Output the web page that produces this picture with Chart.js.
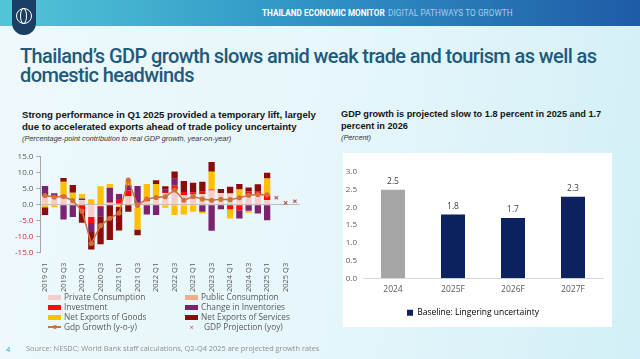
<!DOCTYPE html>
<html>
<head>
<meta charset="utf-8">
<script src="https://cdn.jsdelivr.net/npm/chart.js@4.4.0/dist/chart.umd.min.js"></script>
<style>
    html, body { margin: 0; padding: 0; }
    body {
        width: 640px; height: 359px; overflow: hidden; position: relative;
        font-family: "Open Sans", sans-serif;
        background: linear-gradient(100deg, #eef9fc 0%, #e5f6fa 55%, #d2eff7 100%);
    }
    #header {
        position: absolute; left: 0; top: 0; width: 640px; height: 26px;
        background: linear-gradient(90deg, #52c6d7 0%, #3197c6 45%, #1f5ba7 100%);
    }
    #header .t1, #header .t2 {
        position: absolute; top: 8px; font-family: Roboto, sans-serif; font-size: 8.2px;
        font-weight: 700; white-space: nowrap;
    }
    #header .t1 { left: 262px; color: #ffffff; }
    #header .t2 { left: 388px; color: #a9cdec; font-weight: 400; letter-spacing: 0.1px; }
    #logo {
        position: absolute; left: 12px; top: 0; width: 24px; height: 35px;
        background: #1c3e64; border-radius: 0 0 12px 12px;
    }
    #logo .globe {
        position: absolute; left: 3.5px; top: 8px; width: 14px; height: 14px;
        border: 1.5px solid #fff; border-radius: 50%;
    }
    #logo .meridian {
        position: absolute; left: 8px; top: 8px; width: 5px; height: 14px;
        border: 1.2px solid #fff; border-radius: 50%;
    }
    #title {
        position: absolute; left: 20px; top: 47px; width: 610px;
        font-family: Roboto, sans-serif; font-weight: 500; font-size: 20px; line-height: 18.5px;
        letter-spacing: -0.6px; color: #1d5a7c;
    }
    .subtitle {
        position: absolute; font-family: "Liberation Sans", Arial, sans-serif; font-weight: 700;
        font-size: 9.2px; line-height: 11.5px; color: #141414; white-space: nowrap;
    }
    .subtitle i { font-weight: 400; font-size: 7.3px; color: #333; }
    #leftSub { left: 22px; top: 109px; font-size: 9.6px; }
    #rightSub { left: 341px; top: 109px; }
    #leftWrap { position: absolute; left: 0; top: 149px; width: 306px; height: 145px; }
    #rightBox { position: absolute; left: 343px; top: 153px; width: 269px; height: 174px; background: #ffffff; }
    #legend {
        position: absolute; left: 48px; top: 292px; width: 280px;
        display: grid; grid-template-columns: 137px 140px; row-gap: 0px;
        font-size: 8.3px; color: #595959; line-height: 10px;
    }
    #legend .item { display: flex; align-items: center; white-space: nowrap; }
    #legend .mark { width: 13px; height: 5px; margin-right: 3px; position: relative; }
    #source {
        position: absolute; left: 26px; top: 343px; font-size: 7.4px; color: #8f8f8f; white-space: nowrap;
    }
    #page { position: absolute; left: 6px; top: 344px; font-size: 7.5px; color: #2ba6c8; }
</style>
</head>
<body>
<div id="header">
    <div class="t1">THAILAND ECONOMIC MONITOR</div>
    <div class="t2">DIGITAL PATHWAYS TO GROWTH</div>
</div>
<div id="logo"><div class="globe"></div><div class="meridian"></div></div>

<div id="title">Thailand’s GDP growth slows amid weak trade and tourism as well as<br>domestic headwinds</div>

<div class="subtitle" id="leftSub">Strong performance in Q1 2025 provided a temporary lift, largely<br>due to accelerated exports ahead of trade policy uncertainty<br><i>(Percentage-point contribution to real GDP growth, year-on-year)</i></div>
<div class="subtitle" id="rightSub">GDP growth is projected slow to 1.8 percent in 2025 and 1.7<br>percent in 2026<br><i>(Percent)</i></div>

<div id="leftWrap"><canvas id="contribChart"></canvas></div>
<div id="legend"></div>
<div id="rightBox"><canvas id="forecastChart"></canvas></div>

<div id="source">Source: NESDC; World Bank staff calculations, Q2-Q4 2025 are projected growth rates</div>
<div id="page">4</div>

<script>
// Quarters on the contribution chart (bars to 2025 Q1, projections after)
const quarterLabels = [
    '2019 Q1', '2019 Q2', '2019 Q3', '2019 Q4',
    '2020 Q1', '2020 Q2', '2020 Q3', '2020 Q4',
    '2021 Q1', '2021 Q2', '2021 Q3', '2021 Q4',
    '2022 Q1', '2022 Q2', '2022 Q3', '2022 Q4',
    '2023 Q1', '2023 Q2', '2023 Q3', '2023 Q4',
    '2024 Q1', '2024 Q2', '2024 Q3', '2024 Q4',
    '2025 Q1', '2025 Q2', '2025 Q3', '2025 Q4'
];

// Contributions, percentage points
const privateConsumption = [2.5, 2.3, 2.4, 1.7, 1.4, -3.8, -0.3, 0.5, -0.2, 2.5, -1.0, 1.0, 2.0, 3.5, 4.5, 2.9, 3.2, 3.4, 4.5, 3.6, 3.5, 2.5, 3.0, 3.2, 1.4, null, null, null];
const publicConsumption = [0.2, 0.1, 0.1, 0.1, 0.1, 0.2, 0.2, 0.1, 0.3, 0.2, 0.3, 0.2, 0.2, 0.1, 0.0, 0.1, 0.0, 0.0, 0.0, 0.1, 0.0, 0.1, 0.1, 0.2, 0.1, null, null, null];
const investment = [0.3, 0.2, 0.5, 0.0, -1.7, -1.9, -0.3, 0.3, 1.5, 1.8, 0.3, 0.5, 0.3, 0.4, 1.5, 1.0, 0.7, 0.7, 0.3, 0.0, -1.4, -1.7, 1.1, 0.7, 1.5, null, null, null];
const changeInInventories = [2.9, 1.0, -4.6, -3.8, 0.5, -2.8, -3.0, 4.4, 1.6, 1.6, 5.3, -3.0, -3.2, 0.7, 2.1, 0.0, 0.0, -2.2, -8.1, -1.4, 0.0, -2.6, -1.9, -2.7, -4.8, null, null, null];
const netExportsGoods = [-0.8, -0.8, 4.2, 2.0, 1.4, 1.5, 5.6, 1.2, -0.5, 1.6, -6.7, 4.8, 4.0, -0.9, -3.2, -3.0, -2.2, -0.5, 5.5, 0.0, -2.9, 2.2, -0.6, 0.0, 5.2, null, null, null];
const netExportsServices = [-2.4, 0.0, 1.2, 2.4, -3.9, -5.5, -8.7, -11.0, -7.3, -2.2, -1.8, 0.0, 1.2, 1.1, 2.3, 3.4, 3.0, 3.1, 3.1, 1.2, 2.1, 1.7, 1.2, 2.3, 1.8, null, null, null];

// Real GDP growth (y-o-y) and the projected quarters
const gdpGrowth = [2.9, 2.4, 2.6, 1.3, -2.0, -12.1, -6.5, -4.2, -2.6, 7.7, -0.2, 1.8, 2.3, 2.5, 4.6, 1.4, 2.6, 1.8, 1.4, 1.7, 1.6, 2.2, 3.0, 3.2, 3.1, null, null, null];
const gdpProjection = [null, null, null, null, null, null, null, null, null, null, null, null, null, null, null, null, null, null, null, null, null, null, null, null, null, 2.2, 0.6, 1.1];

// Annual growth forecast
const forecastYears = ['2024', '2025F', '2026F', '2027F'];
const forecastGrowth = [2.5, 1.8, 1.7, 2.3];

const FONT = '"Open Sans", sans-serif';
const GREY_TEXT = '#595959';

document.addEventListener('DOMContentLoaded', () => {
    // Component series with their colours
    const componentConfig = [
        { label: 'Private Consumption', data: privateConsumption, color: '#f8cdc8' },
        { label: 'Public Consumption', data: publicConsumption, color: '#f4ad86' },
        { label: 'Investment', data: investment, color: '#ff0a0a' },
        { label: 'Change in Inventories', data: changeInInventories, color: '#7b2270' },
        { label: 'Net Exports of Goods', data: netExportsGoods, color: '#ffc000' },
        { label: 'Net Exports of Services', data: netExportsServices, color: '#8c0b0b' }
    ];
    const lineColor = '#d0703a';
    const projColor = '#c0504d';

    const barDatasets = componentConfig.map(c => ({
        type: 'bar',
        label: c.label,
        data: c.data,
        backgroundColor: c.color,
        barPercentage: 0.68,
        categoryPercentage: 1,
        order: 2
    }));

    const contribChart = new Chart(document.getElementById('contribChart'), {
        data: {
            labels: quarterLabels,
            datasets: [
                ...barDatasets,
                {
                    type: 'line',
                    label: 'Gdp Growth (y-o-y)',
                    data: gdpGrowth,
                    stack: 'gdp',
                    borderColor: lineColor,
                    backgroundColor: lineColor,
                    borderWidth: 1.5,
                    pointRadius: 1.8,
                    tension: 0,
                    order: 1
                },
                {
                    type: 'line',
                    label: 'GDP Projection (yoy)',
                    data: gdpProjection,
                    stack: 'proj',
                    showLine: false,
                    pointStyle: 'crossRot',
                    pointRadius: 2.4,
                    borderColor: projColor,
                    borderWidth: 1.1,
                    order: 1
                }
            ]
        },
        options: {
            responsive: true,
            maintainAspectRatio: false,
            animation: false,
            layout: { padding: { left: 12, right: 6, top: 4, bottom: 0 } },
            plugins: { legend: { display: false }, tooltip: { enabled: false } },
            scales: {
                x: {
                    stacked: true,
                    grid: { display: false },
                    border: { display: false },
                    ticks: {
                        autoSkip: false,
                        minRotation: 90,
                        maxRotation: 90,
                        padding: 2,
                        color: GREY_TEXT,
                        font: { family: FONT, size: 7.5 },
                        callback: (value, index) => index % 2 === 0 ? quarterLabels[index] : ''
                    }
                },
                y: {
                    stacked: true,
                    min: -15,
                    max: 15,
                    ticks: {
                        stepSize: 5,
                        padding: 3,
                        color: ctx => ctx.tick.value < 0 ? '#e3262b' : GREY_TEXT,
                        font: { family: FONT, size: 8 },
                        callback: v => v.toFixed(1)
                    },
                    grid: {
                        color: ctx => ctx.tick.value === 0 ? '#bdbdbd' : 'transparent',
                        tickColor: '#a6a6a6',
                        tickLength: 4
                    },
                    border: { display: true, color: '#a6a6a6' }
                }
            }
        }
    });

    // HTML legend in two columns, same order as the reference
    const legendEl = document.getElementById('legend');
    const legendItems = [
        ...componentConfig.map(c => ({ label: c.label, kind: 'box', color: c.color })),
        { label: 'Gdp Growth (y-o-y)', kind: 'line', color: lineColor },
        { label: 'GDP Projection (yoy)', kind: 'cross', color: projColor }
    ];
    legendItems.forEach(item => {
        const row = document.createElement('div');
        row.className = 'item';
        const mark = document.createElement('span');
        mark.className = 'mark';
        if (item.kind === 'box') {
            mark.style.background = item.color;
        } else if (item.kind === 'line') {
            mark.style.height = '1.5px';
            mark.style.background = item.color;
            const dot = document.createElement('span');
            dot.style.cssText = `position:absolute;left:5px;top:-1.5px;width:4px;height:4px;border-radius:50%;background:${item.color}`;
            mark.appendChild(dot);
        } else {
            mark.style.height = 'auto';
            mark.style.color = item.color;
            mark.style.fontSize = '8px';
            mark.style.textAlign = 'center';
            mark.style.marginRight = '6px';
            mark.textContent = '×';
        }
        row.appendChild(mark);
        row.appendChild(document.createTextNode(item.label));
        legendEl.appendChild(row);
    });

    // Value labels above forecast bars
    const barValueLabels = {
        id: 'barValueLabels',
        afterDatasetsDraw(chart) {
            const { ctx } = chart;
            const meta = chart.getDatasetMeta(0);
            ctx.save();
            ctx.font = `8.5px ${FONT}`;
            ctx.fillStyle = '#404040';
            ctx.textAlign = 'center';
            ctx.textBaseline = 'bottom';
            meta.data.forEach((bar, i) => {
                ctx.fillText(forecastGrowth[i].toFixed(1), bar.x, bar.y - 4);
            });
            ctx.restore();
        }
    };

    const navy = '#0c2260';
    const grey = '#a6a6a6';

    const forecastChart = new Chart(document.getElementById('forecastChart'), {
        type: 'bar',
        data: {
            labels: forecastYears,
            datasets: [{
                label: 'Baseline: Lingering uncertainty',
                data: forecastGrowth,
                backgroundColor: forecastYears.map(y => y.endsWith('F') ? navy : grey),
                barPercentage: 0.4,
                categoryPercentage: 1
            }]
        },
        options: {
            responsive: true,
            maintainAspectRatio: false,
            animation: false,
            layout: { padding: { left: 0, right: 9, top: 19, bottom: 0 } },
            plugins: {
                tooltip: { enabled: false },
                legend: {
                    position: 'bottom',
                    labels: {
                        boxWidth: 6,
                        boxHeight: 6,
                        padding: 8,
                        color: GREY_TEXT,
                        font: { family: FONT, size: 8.5 },
                        generateLabels: () => [{
                            text: 'Baseline: Lingering uncertainty',
                            fillStyle: navy,
                            strokeStyle: navy,
                            lineWidth: 0,
                            datasetIndex: 0
                        }]
                    }
                }
            },
            scales: {
                x: {
                    grid: { display: false, drawTicks: false },
                    border: { color: '#d9d9d9', width: 1 },
                    ticks: { color: GREY_TEXT, font: { family: FONT, size: 8.5 }, padding: 6 }
                },
                y: {
                    min: 0,
                    max: 3,
                    grid: { display: false, drawTicks: false },
                    border: { display: false },
                    afterFit: scale => { scale.width = 20; },
                    ticks: {
                        stepSize: 0.5,
                        color: GREY_TEXT,
                        font: { family: FONT, size: 8 },
                        padding: 6,
                        callback: v => v.toFixed(1)
                    }
                }
            }
        },
        plugins: [barValueLabels]
    });
});
</script>
</body>
</html>
